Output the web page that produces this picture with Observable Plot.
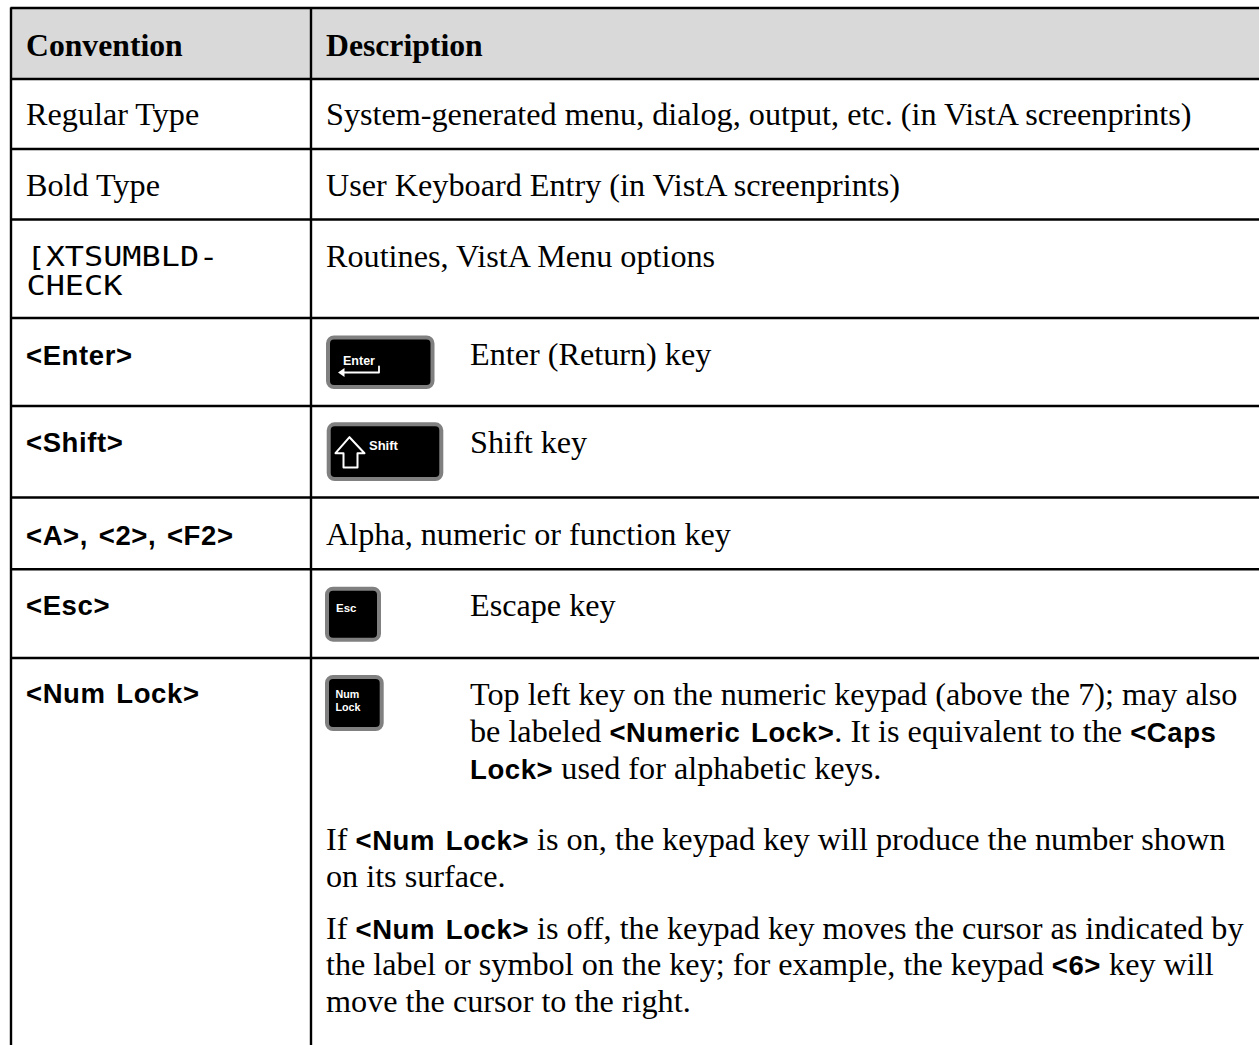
<!DOCTYPE html>
<html>
<head>
<meta charset="utf-8">
<script src="https://cdn.jsdelivr.net/npm/d3@7"></script>
<script src="https://cdn.jsdelivr.net/npm/@observablehq/plot@0.6"></script>
<style>
html,body{margin:0;padding:0;background:#fff;overflow:hidden}
svg{display:block}
</style>
</head>
<body>
<div id="chart"></div>
<script>
const SERIF = "Liberation Serif", SANS = "Liberation Sans", MONO = "DejaVu Sans Mono";
const columnEdges = [10.5, 310.5, 1259];
const rowEdges = [7.5, 78.5, 148.5, 219, 317.5, 405.5, 497, 568.7, 657.5];
const tableBottom = 1045;
const headerFill = "#d9d9d9";

const headers = [["Convention", 25.5, 55], ["Description", 325.5, 55]];

// [line runs, start, baseline]; "b" runs are the bold sans key names
const serifLines = [
  [[["Regular Type"]], 25.5, 124.5],
  [[["System-generated menu, dialog, output, etc. (in VistA screenprints)"]], 325.5, 124.5],
  [[["Bold Type"]], 25.5, 195],
  [[["User Keyboard Entry (in VistA screenprints)"]], 325.5, 195],
  [[["Routines, VistA Menu options"]], 325.5, 266],
  [[["Enter (Return) key"]], 469.5, 364],
  [[["Shift key"]], 469.5, 452],
  [[["Alpha, numeric or function key"]], 325.5, 544],
  [[["Escape key"]], 469.5, 615],
  [[["Top left key on the numeric keypad (above the 7); may also"]], 469.5, 704],
  [[["be labeled "], ["<Numeric Lock>", "b"], [". It is equivalent to the "], ["<Caps", "b"]], 469.5, 741.5],
  [[["Lock>", "b"], [" used for alphabetic keys."]], 469.5, 778.5],
  [[["If "], ["<Num Lock>", "b"], [" is on, the keypad key will produce the number shown"]], 325.5, 849],
  [[["on its surface."]], 325.5, 886],
  [[["If "], ["<Num Lock>", "b"], [" is off, the keypad key moves the cursor as indicated by"]], 325.5, 938],
  [[["the label or symbol on the key; for example, the keypad "], ["<6>", "b"], [" key will"]], 325.5, 974],
  [[["move the cursor to the right."]], 325.5, 1011]
];
const conventionKeys = [
  ["<Enter>", 25.5, 364], ["<Shift>", 25.5, 451], ["<A>, <2>, <F2>", 25.5, 544.5],
  ["<Esc>", 25.5, 614.5], ["<Num Lock>", 25.5, 702.5]
];
const monoLines = [["[XTSUMBLD-", 26, 265], ["CHECK", 26, 294]];

// key caps: [x1, y1, x2, y2]
const keyCaps = [[328, 337.5, 432.5, 387], [328.7, 424.3, 441.3, 479], [327, 588.7, 379, 639.7], [327, 677, 381.7, 729]];
const keyLabels = [
  ["Enter", 342.5, 364.5, 12.5], ["Shift", 368.5, 449, 13],
  ["Esc", 335.5, 611, 11.5], ["Num", 335, 697, 10.7], ["Lock", 335, 710, 10.7]
];
const enterArrow = [[378.5, 366], [378.5, 372], [341, 372]];
const enterHead = [[337.5, 372], [344, 367.5], [344, 376.5]];
const shiftArrow = [[349, 436.7], [364, 452.7], [357, 452.7], [357, 467], [343, 467], [343, 452.7], [335, 452.7], [349, 436.7]];

const serifSize = 32.2, sansSize = 27.5, sansSpacing = 0.6, sansWordGap = 2.5, headerSize = 31.7, monoStretch = 1.18;
const ctx = document.createElement("canvas").getContext("2d");
function widthOf(t, bold) {
  ctx.font = bold ? `bold ${sansSize}px "${SANS}"` : `${serifSize}px "${SERIF}"`;
  return ctx.measureText(t).width + (bold ? t.length * sansSpacing + (t.split(" ").length - 1) * sansWordGap : 0);
}
const runs = [];
for (const [parts, start, y] of serifLines) {
  let x = start;
  for (const [t, kind] of parts) {
    runs.push({t, x, y, bold: kind === "b"});
    x += widthOf(t, kind === "b");
  }
}
const text = (data, o) => Plot.text(data, {textAnchor: "start", lineAnchor: "bottom", fill: "#000", ...o});

const chart = Plot.plot({
  width: 1259, height: 1045,
  margin: 0,
  x: {type: "linear", domain: [0, 1259], range: [0, 1259], axis: null},
  y: {type: "linear", domain: [0, 1045], range: [0, 1045], axis: null},
  style: {background: "#fff"},
  marks: [
    Plot.rect([0], {x1: columnEdges[0], x2: columnEdges[2], y1: rowEdges[0], y2: rowEdges[1], fill: headerFill}),
    Plot.ruleY(rowEdges, {x1: columnEdges[0], x2: columnEdges[2], y: d => d, stroke: "#000", strokeWidth: 2.4}),
    Plot.ruleX(columnEdges.slice(0, 2), {x: d => d, y1: rowEdges[0], y2: tableBottom, stroke: "#000", strokeWidth: 2.4}),
    text(headers, {x: d => d[1], y: d => d[2], text: d => d[0], fontFamily: SERIF, fontWeight: "bold", fontSize: headerSize}),
    text(runs.filter(d => !d.bold), {x: "x", y: "y", text: "t", fontFamily: SERIF, fontSize: serifSize}),
    text(runs.filter(d => d.bold), {x: "x", y: "y", text: "t", fontFamily: SANS, fontWeight: "bold", fontSize: sansSize}),
    text(conventionKeys, {x: d => d[1], y: d => d[2], text: d => d[0], fontFamily: SANS, fontWeight: "bold", fontSize: sansSize}),
    text(monoLines, {x: d => d[1], y: d => d[2], text: d => d[0], fontFamily: MONO, fontSize: 27}),
    Plot.rect(keyCaps, {x1: d => d[0], y1: d => d[1], x2: d => d[2], y2: d => d[3], fill: "#000", stroke: "#808080", strokeWidth: 4, rx: 6}),
    text(keyLabels, {x: d => d[1], y: d => d[2], text: d => d[0], fontFamily: SANS, fontWeight: "bold", fontSize: d => d[3], fill: "#fff"}),
    Plot.line(enterArrow, {x: d => d[0], y: d => d[1], stroke: "#fff", strokeWidth: 1.8, curve: "linear"}),
    Plot.line(enterHead.concat([enterHead[0]]), {x: d => d[0], y: d => d[1], fill: "#fff", stroke: "none"}),
    Plot.line(shiftArrow, {x: d => d[0], y: d => d[1], stroke: "#fff", strokeWidth: 2, curve: "linear"})
  ]
});
d3.select(chart).selectAll(`g[font-size="${sansSize}"] text`).attr("letter-spacing", sansSpacing).attr("word-spacing", sansWordGap);
d3.select(chart).selectAll(`g[font-family="${MONO}"] text`).each(function () {
  const t = this.getAttribute("transform") || "";
  this.setAttribute("transform", `${t} scale(${monoStretch},1)`);
});
document.getElementById("chart").appendChild(chart);
</script>
</body>
</html>
